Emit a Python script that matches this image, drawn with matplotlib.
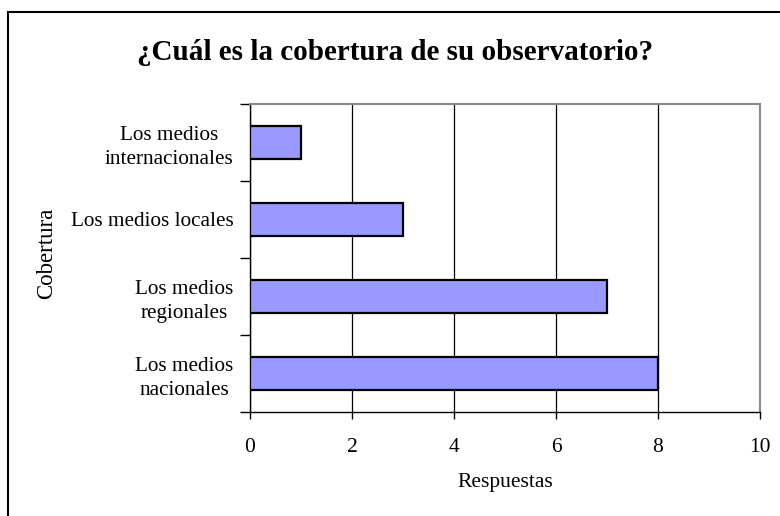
import matplotlib.pyplot as plt
from matplotlib.patches import Rectangle
import numpy as np

plt.rcParams['font.family'] = ['Liberation Serif', 'DejaVu Serif']

# Datos
categorias = ['Los medios\nnacionales', 'Los medios\nregionales',
              'Los medios locales', 'Los medios\ninternacionales']
respuestas = [8, 7, 3, 1]

fig = plt.figure(figsize=(7.8, 5.16), dpi=100)
ax = fig.add_axes([250 / 780, 1 - 412 / 516, 510 / 780, 308 / 516])

pos = np.arange(len(categorias))
ax.barh(pos, respuestas, height=0.42, color='#9999FF', edgecolor='black',
        linewidth=1.6, zorder=3)

ax.set_xlim(0, 10)
ax.set_ylim(-0.5, len(categorias) - 0.5)
ax.set_xticks(range(0, 11, 2))
ax.xaxis.grid(True, color='black', linewidth=0.9, zorder=0)
ax.set_axisbelow(True)

# marcas del eje Y entre categorias, etiquetas centradas en cada barra
ax.set_yticks(np.arange(-0.5, len(categorias), 1.0))
ax.set_yticklabels([])
ax.set_yticks(pos, minor=True)
ax.set_yticklabels(categorias, minor=True, fontsize=15.3,
                   multialignment='center', linespacing=1.35)
ax.tick_params(axis='y', which='minor', length=0, pad=12)
ax.tick_params(axis='y', which='major', length=7, width=1, direction='out')
ax.tick_params(axis='x', length=5, width=1, direction='out', labelsize=15.5, pad=14)

for s in ['top', 'right']:
    ax.spines[s].set_color('#888888')
    ax.spines[s].set_linewidth(1.5)
for s in ['left', 'bottom']:
    ax.spines[s].set_color('black')
    ax.spines[s].set_linewidth(1)

fig.text(505 / 780, 1 - 483 / 516, 'Respuestas', fontsize=15.5,
         ha='center', va='center')
fig.text(47 / 780, 1 - 253 / 516, 'Cobertura', rotation=90, fontsize=16.5,
         ha='center', va='center')

fig.text(395 / 780, 1 - 52 / 516, '¿Cuál es la cobertura de su observatorio?',
         fontsize=21, fontweight='bold', ha='center', va='center')

# borde del grafico
fig.patches.append(Rectangle((8 / 780, -0.1), 1.2, 1 - 12 / 516 + 0.1,
                             transform=fig.transFigure, fill=False,
                             edgecolor='black', linewidth=1.5))

fig.savefig('out.png', dpi=100)
